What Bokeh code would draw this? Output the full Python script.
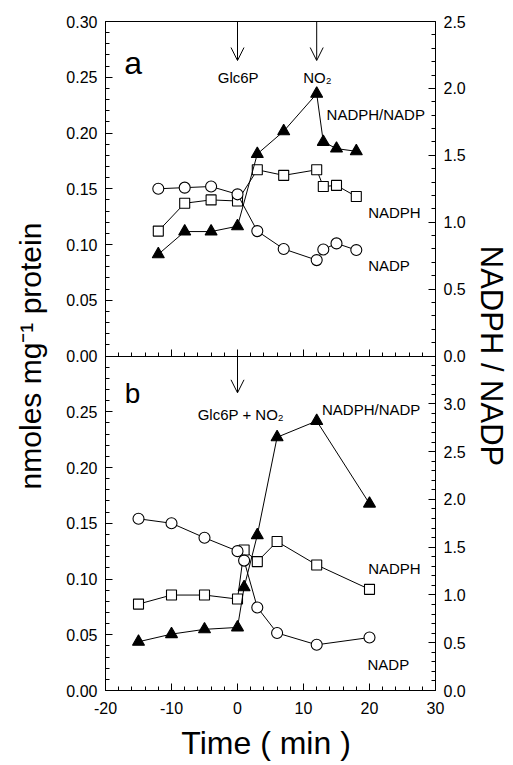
from bokeh.plotting import figure
from bokeh.models import (Range1d, LinearAxis, FixedTicker, NumeralTickFormatter,
                          CustomJSTickFormatter, Label, Arrow, OpenHead)
from bokeh.embed import file_html
from bokeh.resources import INLINE

FONT = "Liberation Sans"

# ---------------- data ----------------
# panel a : Glc6P added at 0 min, NO2 at 12 min
time_a = [-12, -8, -4, 0, 3, 7, 12, 13, 15, 18]
nadph_a = [0.112, 0.137, 0.140, 0.139, 0.167, 0.162, 0.167, 0.152, 0.153, 0.143]
nadp_a = [0.150, 0.151, 0.152, 0.145, 0.112, 0.096, 0.086, 0.0955, 0.101, 0.095]
ratio_a = [0.76, 0.93, 0.93, 0.97, 1.51, 1.68, 1.96, 1.60, 1.55, 1.53]
events_a = [0, 12]
event_labels_a = ["Glc6P", "NO\u2082"]

# panel b : Glc6P + NO2 added at 0 min
time_b = [-15, -10, -5, 0, 1, 3, 6, 12, 20]
nadp_b = [0.154, 0.150, 0.137, 0.125, 0.1165, 0.0745, 0.0516, 0.041, 0.0475]
nadph_b = [0.0775, 0.0856, 0.0856, 0.082, 0.126, 0.1156, 0.1336, 0.1126, 0.0907]
ratio_b = [0.51, 0.59, 0.64, 0.66, 1.08, 1.625, 2.65, 2.82, 1.955]
events_b = [0]
event_labels_b = ["Glc6P + NO\u2082"]

# ticks (per panel)
x_ticks = [-20, -10, 0, 10, 20, 30]
x_minor = list(range(-20, 31, 2))
left_ticks_a = [0.0, 0.05, 0.10, 0.15, 0.20, 0.25, 0.30]
left_ticks_b = [0.0, 0.05, 0.10, 0.15, 0.20, 0.25]
left_minor = [i / 100 for i in range(0, 31)]
right_ticks_a = [0.0, 0.5, 1.0, 1.5, 2.0, 2.5]
right_minor_a = [i / 10 for i in range(0, 26)]
right_ticks_b = [0.0, 0.5, 1.0, 1.5, 2.0, 2.5, 3.0]
right_minor_b = [i / 10 for i in range(0, 36)]

# panel ranges
LEFT_MAX = 0.30      # both panels, left axis
RIGHT_A_MAX = 2.5    # panel a, right axis
RIGHT_B_MAX = 3.5    # panel b, right axis

# ---------------- figure ----------------
# one frame holding both panels: panel b in the lower half, panel a in the upper half
p = figure(width=511, height=763, output_backend="svg", toolbar_location=None,
           x_range=Range1d(-20, 30), y_range=Range1d(0, 2 * LEFT_MAX),
           x_axis_type=None, y_axis_type=None,
           min_border_left=105, min_border_right=73, min_border_top=21, min_border_bottom=73)
p.extra_y_ranges = {"al": Range1d(-LEFT_MAX, LEFT_MAX),
                    "ar": Range1d(-RIGHT_A_MAX, RIGHT_A_MAX),
                    "br": Range1d(0, 2 * RIGHT_B_MAX)}
p.grid.visible = False
p.outline_line_color = "black"
p.outline_line_width = 1
p.background_fill_color = "white"
p.border_fill_color = "white"


def style(ax, standoff=8):
    ax.axis_line_color = "black"
    ax.axis_line_width = 1
    ax.major_tick_in = 7
    ax.major_tick_out = 0
    ax.minor_tick_in = 4
    ax.minor_tick_out = 0
    ax.major_tick_line_color = "black"
    ax.minor_tick_line_color = "black"
    ax.major_label_text_font = FONT
    ax.major_label_text_font_size = "16px"
    ax.major_label_text_color = "black"
    ax.major_label_standoff = standoff
    ax.axis_label_text_font = FONT
    ax.axis_label_text_font_style = "normal"
    ax.axis_label_text_color = "black"


# left axis: lower half = panel b values, upper half = panel a values (shifted by LEFT_MAX)
left_ticks = left_ticks_b + [t + LEFT_MAX for t in left_ticks_a]
left_minors = left_minor + [t + LEFT_MAX for t in left_minor]
left = LinearAxis(ticker=FixedTicker(ticks=left_ticks, minor_ticks=left_minors),
                  formatter=CustomJSTickFormatter(
                      args={"off": LEFT_MAX},
                      code="const v = tick >= off - 1e-9 ? tick - off : tick;"
                           " return Math.abs(v).toFixed(2);"),
                  axis_label="nmoles mg\u207b\u00b9 protein")
style(left)
left.axis_label_text_font_size = "30px"
left.axis_label_standoff = 16

# right axis on the 'br' range: lower half panel b, upper half panel a rescaled
k = RIGHT_B_MAX / RIGHT_A_MAX
right_ticks = right_ticks_b + [RIGHT_B_MAX + k * t for t in right_ticks_a]
right_minors = right_minor_b + [RIGHT_B_MAX + k * t for t in right_minor_a]
right = LinearAxis(y_range_name="br",
                   ticker=FixedTicker(ticks=right_ticks, minor_ticks=right_minors),
                   formatter=CustomJSTickFormatter(
                       args={"off": RIGHT_B_MAX, "k": k},
                       code="const v = tick >= off - 1e-9 ? (tick - off) / k : tick;"
                            " return Math.abs(v).toFixed(1);"),
                   axis_label="NADPH / NADP")
style(right)
right.axis_label_text_font_size = "31px"
right.axis_label_standoff = 5

below = LinearAxis(ticker=FixedTicker(ticks=x_ticks, minor_ticks=x_minor),
                   formatter=NumeralTickFormatter(format="0"),
                   axis_label="Time  ( min )")
style(below, standoff=11)
below.axis_label_text_font_size = "32px"
below.axis_label_standoff = 8

# ticks along the panel divider (bottom axis of panel a, no labels)
mid = LinearAxis(y_range_name="al", fixed_location=0,
                 ticker=FixedTicker(ticks=x_ticks, minor_ticks=x_minor),
                 formatter=CustomJSTickFormatter(code="return ''"))
style(mid)
mid.major_label_text_font_size = "0px"

p.add_layout(left, "left")
p.add_layout(right, "right")
p.add_layout(below, "below")
p.add_layout(mid, "below")

# ---------------- series ----------------
def series(x, y, rng, marker, size, fill):
    kw = {} if rng is None else {"y_range_name": rng}
    p.line(x, y, line_color="black", line_width=1, **kw)
    p.scatter(x, y, marker=marker, size=size, fill_color=fill,
              line_color="black", line_width=1.1, **kw)

series(time_a, nadph_a, "al", "square", 10, "white")
series(time_a, nadp_a, "al", "circle", 11, "white")
series(time_a, ratio_a, "ar", "triangle", 12, "black")

series(time_b, nadph_b, None, "square", 10, "white")
series(time_b, nadp_b, None, "circle", 11, "white")
series(time_b, ratio_b, "br", "triangle", 12, "black")

# ---------------- annotations ----------------
def label(x, y, text, rng=None, size="15px", align="left"):
    kw = {} if rng is None else {"y_range_name": rng}
    p.add_layout(Label(x=x, y=y, text=text, text_font=FONT, text_font_size=size,
                       text_align=align, text_baseline="alphabetic",
                       text_color="black", **kw))

for t, txt in zip(events_a, event_labels_a):
    p.add_layout(Arrow(x_start=t, y_start=LEFT_MAX, x_end=t, y_end=0.265, y_range_name="al",
                       line_color="black", line_width=1,
                       end=OpenHead(size=13, line_width=1, line_color="black")))
    label(t + 0.1, 0.250, txt, "al", align="center")

for t, txt in zip(events_b, event_labels_b):
    p.add_layout(Arrow(x_start=t, y_start=LEFT_MAX, x_end=t, y_end=0.267,
                       line_color="black", line_width=1,
                       end=OpenHead(size=13, line_width=1, line_color="black")))
    label(t + 0.5, 0.2477, txt, align="center")

label(-15.8, 0.263, "a", "al", size="32px", align="center")
label(-15.9, 0.2667, "b", None, size="28px", align="center")

label(13.5, 0.217, "NADPH/NADP", "al")
label(19.8, 0.129, "NADPH", "al")
label(19.8, 0.081, "NADP", "al")

label(12.8, 0.252, "NADPH/NADP")
label(19.8, 0.1096, "NADPH")
label(19.7, 0.0234, "NADP")

open("out.html", "w").write(file_html(p, INLINE))
